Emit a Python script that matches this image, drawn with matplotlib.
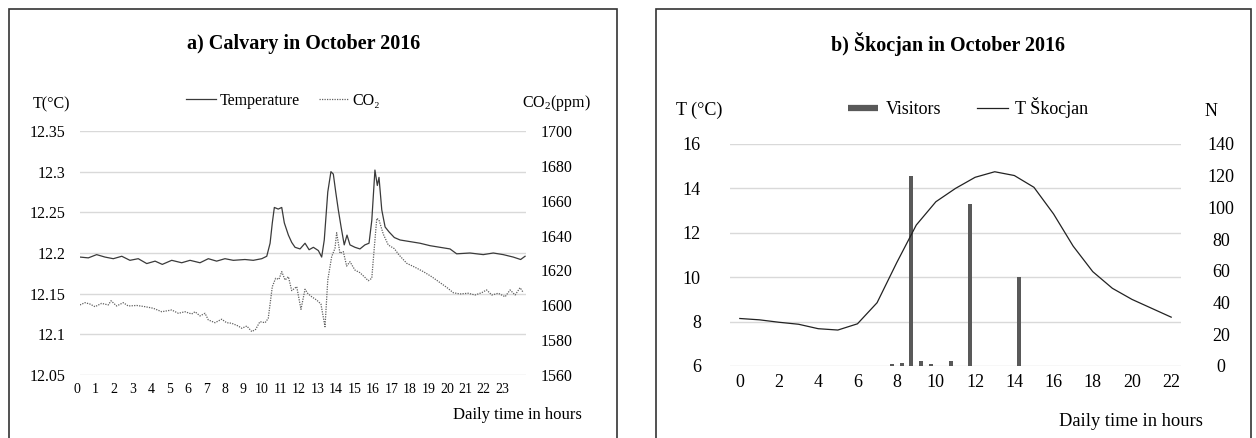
import matplotlib
matplotlib.use("Agg")
import matplotlib.pyplot as plt
from matplotlib.patches import Rectangle
from matplotlib.lines import Line2D
from matplotlib.ticker import FuncFormatter
from matplotlib.transforms import ScaledTranslation

plt.rcParams['font.family'] = ['Liberation Serif', 'DejaVu Serif']
plt.rcParams['mathtext.fontset'] = 'custom'
plt.rcParams['mathtext.rm'] = 'Liberation Serif'

# a) Calvary - temperature (degC) and CO2 (ppm) vs daily time in hours
calv_t_hours = [0.00, 0.45, 0.90, 1.35, 1.80, 2.26, 2.70, 3.15, 3.61, 4.06, 4.45, 4.96,
                5.50, 5.95, 6.49, 6.94, 7.39, 7.84, 8.29, 8.92, 9.37, 9.83, 10.10, 10.28,
                10.40, 10.51, 10.72, 10.91, 11.05, 11.27, 11.45, 11.63, 11.90, 12.17, 12.39,
                12.62, 12.89, 13.07, 13.21, 13.40, 13.57, 13.70, 13.83, 13.97, 14.12, 14.29,
                14.44, 14.60, 14.87, 15.14, 15.41, 15.63, 15.78, 15.95, 16.08, 16.17, 16.32,
                16.50, 16.71, 17.00, 17.31, 17.85, 18.39, 18.93, 19.47, 20.01, 20.37, 21.09,
                21.81, 22.35, 22.89, 23.43, 23.83, 24.07]
calv_temp = [12.195, 12.194, 12.198, 12.195, 12.193, 12.196, 12.191, 12.193, 12.187, 12.190,
             12.186, 12.191, 12.188, 12.191, 12.188, 12.193, 12.190, 12.193, 12.191, 12.192,
             12.191, 12.193, 12.196, 12.212, 12.237, 12.256, 12.254, 12.256, 12.237, 12.222,
             12.213, 12.207, 12.205, 12.212, 12.204, 12.207, 12.203, 12.195, 12.216, 12.275,
             12.300, 12.297, 12.275, 12.253, 12.232, 12.210, 12.222, 12.210, 12.207, 12.205,
             12.210, 12.212, 12.240, 12.302, 12.283, 12.293, 12.253, 12.232, 12.226, 12.219,
             12.216, 12.214, 12.212, 12.209, 12.207, 12.205, 12.199, 12.200, 12.198, 12.200,
             12.198, 12.195, 12.192, 12.196]

calv_c_hours = [0.00, 0.27, 0.54, 0.81, 1.17, 1.53, 1.68, 1.98, 2.34, 2.61, 3.07, 3.52, 3.96,
                4.42, 4.96, 5.32, 5.68, 6.04, 6.22, 6.49, 6.76, 6.94, 7.30, 7.66, 7.93, 8.20,
                8.56, 8.75, 9.02, 9.29, 9.50, 9.73, 10.01, 10.18, 10.40, 10.58, 10.76, 10.91,
                11.09, 11.27, 11.45, 11.72, 11.95, 12.17, 12.31, 12.53, 12.80, 13.03, 13.25,
                13.40, 13.61, 13.79, 13.88, 14.06, 14.24, 14.42, 14.60, 14.87, 15.14, 15.41,
                15.59, 15.78, 15.86, 16.05, 16.17, 16.40, 16.67, 17.00, 17.25, 17.67, 18.12,
                18.57, 19.02, 19.47, 19.83, 20.19, 20.55, 21.00, 21.36, 21.72, 21.99, 22.27,
                22.62, 22.99, 23.26, 23.53, 23.80, 23.98]
calv_co2 = [1600.2, 1601.5, 1600.7, 1599.2, 1601.1, 1600.2, 1602.6, 1599.6, 1601.5, 1599.6,
            1599.9, 1599.2, 1598.3, 1596.3, 1597.3, 1595.4, 1596.3, 1595.0, 1596.3, 1593.9,
            1595.4, 1591.6, 1590.0, 1592.0, 1590.0, 1589.7, 1588.1, 1586.8, 1588.1, 1584.9,
            1586.2, 1590.6, 1590.0, 1592.5, 1610.7, 1615.5, 1614.9, 1619.3, 1614.5, 1616.4,
            1608.4, 1610.7, 1597.7, 1609.2, 1606.9, 1604.9, 1603.0, 1600.7, 1587.7, 1614.5,
            1627.9, 1632.7, 1641.6, 1629.8, 1630.8, 1622.5, 1625.0, 1620.2, 1618.7, 1616.0,
            1614.1, 1615.5, 1626.0, 1649.9, 1648.9, 1640.9, 1634.6, 1632.5, 1628.9, 1624.1,
            1621.8, 1619.3, 1616.4, 1613.0, 1610.3, 1607.2, 1606.5, 1606.9, 1605.9, 1607.2,
            1608.8, 1605.9, 1606.9, 1604.9, 1608.8, 1605.9, 1610.1, 1607.2]

calv_xticks = list(range(24))
calv_yticks = [12.05, 12.1, 12.15, 12.2, 12.25, 12.3, 12.35]
calv_co2_ticks = [1560, 1580, 1600, 1620, 1640, 1660, 1680, 1700]

# b) Skocjan - hourly temperature and visitors per half hour
skoc_hours = list(range(23))
skoc_temp = [8.14, 8.08, 7.97, 7.88, 7.68, 7.62, 7.90, 8.85, 10.65, 12.35, 13.40, 14.00,
             14.50, 14.75, 14.58, 14.05, 12.85, 11.40, 10.25, 9.50, 9.00, 8.60, 8.20]
visit_hours = [7.75, 8.25, 8.75, 9.25, 9.75, 10.75, 11.75, 14.25]
visitors = [1, 2, 120, 3, 1, 3, 102, 56]
skoc_xticks = list(range(0, 23, 2))
skoc_yticks = [6, 8, 10, 12, 14, 16]
skoc_nticks = list(range(0, 141, 20))

W, H = 1256, 438
fig = plt.figure(figsize=(W / 100, H / 100), dpi=100)


def fx(x):
    return x / W


def fy(y):
    return 1 - y / H


grid_c = '#d9d9d9'

# panel frames
fig.patches.append(Rectangle((fx(9), -0.1), fx(617 - 9), fy(9) + 0.1, transform=fig.transFigure,
                             fill=False, ec='#333333', lw=1.2))
fig.patches.append(Rectangle((fx(656), -0.1), fx(1251 - 656), fy(9) + 0.1, transform=fig.transFigure,
                             fill=False, ec='#333333', lw=1.2))

# ---------- a) Calvary ----------
ax = fig.add_axes([fx(80), fy(375), fx(446), 244 / H])
ax2 = ax.twinx()
ax.set_xlim(0, 24.12)
ax.set_ylim(12.05, 12.35)
ax2.set_ylim(1560, 1700)
ax.set_yticks(calv_yticks)
ax2.set_yticks(calv_co2_ticks)
ax.yaxis.set_major_formatter(FuncFormatter(lambda v, p: f'{v:g}'))
ax.set_xticks(calv_xticks)
ax.grid(axis='y', color=grid_c, lw=1)
ax.set_axisbelow(True)
for a in (ax, ax2):
    for s in a.spines.values():
        s.set_visible(False)
    a.tick_params(length=0)
ax.tick_params(axis='y', labelsize=11.5, pad=10.5)
ax2.tick_params(axis='y', labelsize=11.5, pad=10.5)
ax.tick_params(axis='x', labelsize=10, pad=5.5)
shift = ScaledTranslation(-3 / 100, 0, fig.dpi_scale_trans)
for lbl in ax.get_xticklabels():
    lbl.set_transform(lbl.get_transform() + shift)

ax.plot(calv_t_hours, calv_temp, color='#3a3a3a', lw=0.9)
ax2.plot(calv_c_hours, calv_co2, color='#606060', lw=0.9, linestyle=(0, (1, 1)))

fig.text(fx(304), fy(44), 'a) Calvary in October 2016', ha='center', va='center',
         fontsize=14.5, fontweight='bold')
fig.text(fx(51), fy(104), 'T(°C)', ha='center', va='center', fontsize=11.5)
fig.text(fx(556), fy(103), r'CO$_\mathrm{2}$(ppm)', ha='center', va='center', fontsize=11.5)
fig.text(fx(582), fy(415), 'Daily time in hours', ha='right', va='center', fontsize=12)

h1 = [Line2D([], [], color='#3a3a3a', lw=0.9),
      Line2D([], [], color='#606060', lw=0.9, linestyle=(0, (1, 1)))]
fig.legend(h1, ['Temperature', 'CO₂'], loc='center', bbox_to_anchor=(fx(283), fy(101)),
           ncol=2, frameon=False, fontsize=11.5, handlelength=1.9, handletextpad=0.2,
           columnspacing=1.2, borderpad=0)

# ---------- b) Skocjan ----------
axr = fig.add_axes([fx(730), fy(366), fx(451), 222 / H])
axn = axr.twinx()
axl = axr.twinx()
axr.set_xlim(-0.5, 22.5)
axr.set_ylim(6, 16)
axl.set_ylim(6, 16)
axn.set_ylim(0, 140)
axr.set_yticks(skoc_yticks)
axn.set_yticks(skoc_nticks)
axl.set_yticks([])
axr.set_xticks(skoc_xticks)
axr.grid(axis='y', color=grid_c, lw=1)
axr.set_axisbelow(True)
for a in (axr, axn, axl):
    for s in a.spines.values():
        s.set_visible(False)
    a.tick_params(length=0)
axr.tick_params(axis='y', labelsize=13, pad=21)
axn.tick_params(axis='y', labelsize=13, pad=29)
for lbl in axn.get_yticklabels():
    lbl.set_ha('center')
axr.tick_params(axis='x', labelsize=13, pad=6)

axn.bar(visit_hours, visitors, width=0.2, color='#595959')
axl.plot(skoc_hours, skoc_temp, color='#222222', lw=0.9)

fig.text(fx(948), fy(44), 'b) Škocjan in October 2016', ha='center', va='center',
         fontsize=14.5, fontweight='bold')
fig.text(fx(699), fy(110), 'T (°C)', ha='center', va='center', fontsize=13)
fig.text(fx(1211), fy(112), 'N', ha='center', va='center', fontsize=13)
fig.text(fx(1203), fy(421), 'Daily time in hours', ha='right', va='center', fontsize=13.3)

h2 = [Line2D([], [], color='#595959', lw=4.5, solid_capstyle='butt'),
      Line2D([], [], color='#222222', lw=0.9)]
fig.legend(h2, ['Visitors', 'T Škocjan'], loc='center', bbox_to_anchor=(fx(968), fy(108)),
           ncol=2, frameon=False, fontsize=13, handlelength=1.7, handletextpad=0.4,
           columnspacing=2.0, borderpad=0)

fig.savefig('out.png', dpi=100)
